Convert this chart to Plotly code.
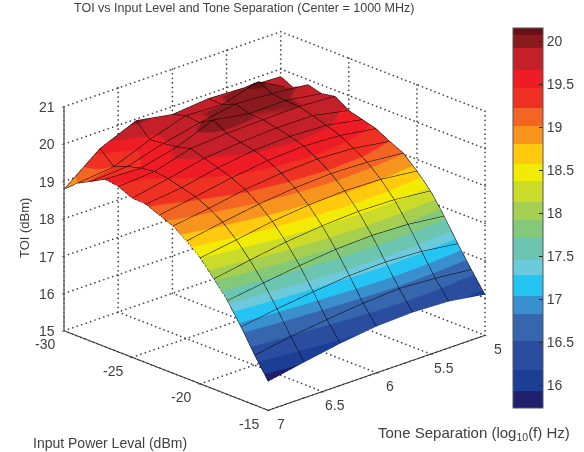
import numpy as np
import plotly.graph_objects as go

input_level = list(range(-30, -14))
tone_sep = [7, 6.6667, 6.3333, 6, 5.6667, 5.3333, 5]
# rows: input level, columns: tone separation (7 -> 5)
toi_rows = [
 [18.79,19.55,19.96,19.79,19.88,19.84,19.80],
 [19.09,19.20,19.59,19.90,19.86,20.14,19.62],
 [19.28,19.35,19.63,19.85,20.02,19.96,19.87],
 [19.48,19.45,19.68,20.07,19.90,19.92,19.77],
 [19.43,19.50,19.78,19.85,19.88,19.90,19.84],
 [19.26,19.45,19.66,19.75,19.80,19.80,19.60],
 [19.24,19.35,19.55,19.68,19.72,19.68,19.50],
 [19.09,19.25,19.42,19.55,19.60,19.55,19.40],
 [18.94,19.08,19.25,19.35,19.40,19.35,19.20],
 [18.68,18.85,19.00,19.10,19.15,19.12,19.03],
 [18.37,18.52,18.68,18.78,18.83,18.80,18.69],
 [17.95,18.12,18.27,18.37,18.42,18.40,18.30],
 [17.51,17.65,17.78,17.88,17.92,17.88,17.77],
 [16.95,17.10,17.22,17.32,17.35,17.30,17.17],
 [16.33,16.50,16.62,16.72,16.78,16.72,16.62],
 [15.77,15.95,16.12,16.24,16.28,16.24,16.09],
]
x_ticks = [-30, -25, -20, -15]
y_ticks = [5, 5.5, 6, 6.5, 7]
z_ticks = [15, 16, 17, 18, 19, 20, 21]
cbar_ticks = [16, 16.5, 17, 17.5, 18, 18.5, 19, 19.5, 20]
band_edges = [15.736,15.93,16.18,16.51,16.83,17.04,17.28,17.46,17.71,17.92,18.13,18.37,18.57,18.81,19.02,19.22,19.46,19.67,19.92,20.07,20.155]
band_colors = ["#1f1f6e","#1c3f95","#2a4da0","#3566ae","#3a8fcf","#25c5f3","#6dcadd","#6cc5b0","#84c87a","#a6ce50","#cbdb2a","#f2ec05","#ffc90e","#f7941d","#f36523","#ef3124","#ee1c25","#c4202a","#8a1a1e","#6a1015"]

lo, hi = band_edges[0], band_edges[-1]
scale = []
for a, b, c in zip(band_edges[:-1], band_edges[1:], band_colors):
    scale += [[(a-lo)/(hi-lo), c], [(b-lo)/(hi-lo), c]]

Z = np.array(toi_rows).T
FONT = "Liberation Sans"
TXT = "#404040"

fig = go.Figure()

# dotted box grid, drawn as fine dots along the tick lines
gx, gy, gz = [], [], []
def seg(p, q, n):
    t = np.linspace(0, 1, n)
    gx.extend(p[0] + (q[0]-p[0])*t); gy.extend(p[1] + (q[1]-p[1])*t); gz.extend(p[2] + (q[2]-p[2])*t)
x0, x1, y0, y1, z0, z1 = x_ticks[0], x_ticks[-1], y_ticks[0], y_ticks[-1], z_ticks[0], z_ticks[-1]
for xt in x_ticks:
    seg((xt, y0, z0), (xt, y1, z0), 50)
    seg((xt, y0, z0), (xt, y0, z1), 50)
for yt in y_ticks:
    seg((x0, yt, z0), (x1, yt, z0), 50)
    seg((x0, yt, z0), (x0, yt, z1), 50)
for zt in z_ticks:
    seg((x0, y0, zt), (x1, y0, zt), 50)
    seg((x0, y0, zt), (x0, y1, zt), 50)
fig.add_trace(go.Scatter3d(x=gx, y=gy, z=gz, mode="markers", hoverinfo="skip", showlegend=False,
                           marker=dict(color="#444444", size=1, line=dict(width=0))))

fig.add_trace(go.Surface(
    x=input_level, y=tone_sep, z=Z, cmin=lo, cmax=hi, colorscale=scale,
    lighting=dict(ambient=1, diffuse=0, specular=0, fresnel=0, roughness=1),
    contours=dict(
        x=dict(show=True, start=-30, end=-15, size=1, color="#000000", width=4, highlight=False),
        y=dict(show=True, start=5, end=7, size=1/3, color="#000000", width=4, highlight=False),
        z=dict(highlight=False),
    ),
    colorbar=dict(
        x=513/584, xanchor="left", xpad=0, ypad=0, thickness=30, thicknessmode="pixels",
        len=380/452, lenmode="fraction", y=1-28/452, yanchor="top",
        tickvals=cbar_ticks, ticktext=["16","16.5","17","17.5","18","18.5","19","19.5","20"],
        ticks="inside", ticklen=4, tickcolor="#222222", outlinecolor="#555555", outlinewidth=1,
        tickfont=dict(family=FONT, size=14, color=TXT),
    ),
))

ax = dict(showbackground=False, showgrid=False, zeroline=False, showspikes=False,
          showline=True, linecolor="#222222", linewidth=2, ticks="outside", ticklen=3,
          tickcolor="#222222", showticklabels=False, title=dict(text=""))

tick_font = dict(family=FONT, size=14, color=TXT)
scene_notes = []
for v in x_ticks:
    scene_notes.append(dict(x=v, y=y1, z=z0, text=str(v), showarrow=False, xshift=-19, yshift=-13, font=tick_font))
for v in y_ticks:
    scene_notes.append(dict(x=x1, y=v, z=z0, text=str(v), showarrow=False, xshift=13, yshift=-13, font=tick_font))
for v in z_ticks:
    scene_notes.append(dict(x=x0, y=y1, z=v, text=str(v), showarrow=False, xshift=-17, yshift=0, font=tick_font))

# left-hand colorbar tick marks, placed from the colorbar's own scale
cb_top, cb_len = 28, 380
cb_shapes = [dict(type="line", xref="paper", yref="paper", x0=513/584, x1=517/584,
                  y0=1-(cb_top+(hi-v)/(hi-lo)*cb_len)/452, y1=1-(cb_top+(hi-v)/(hi-lo)*cb_len)/452,
                  line=dict(color="#222222", width=1)) for v in cbar_ticks]

fig.update_layout(
    width=584, height=452, margin=dict(l=0, r=0, t=0, b=0), paper_bgcolor="white",
    font=dict(family=FONT, color=TXT), shapes=cb_shapes,
    scene=dict(
        domain=dict(x=[0, 0.94], y=[0.025, 0.995]),
        xaxis=dict(ax, range=[-30, -15], tickvals=x_ticks),
        yaxis=dict(ax, range=[7, 5], tickvals=y_ticks),
        zaxis=dict(ax, range=[15, 21], tickvals=z_ticks),
        aspectmode="manual", aspectratio=dict(x=1.36, y=1.36, z=1.10),
        camera=dict(projection=dict(type="orthographic"),
                    up=dict(x=0, y=0, z=1), center=dict(x=0, y=0, z=0),
                    eye=dict(x=1.354, y=-1.276, z=0.734)),
        annotations=scene_notes,
    ),
    annotations=[
        dict(text="TOI vs Input Level and Tone Separation (Center = 1000 MHz)", x=244/584, y=1-8/452, xref="paper", yref="paper", showarrow=False, xanchor="center", yanchor="middle", font=dict(size=12.5, color=TXT)),
        dict(text="Input Power Leval (dBm)", x=110/584, y=1-443/452, xref="paper", yref="paper", showarrow=False, xanchor="center", yanchor="middle", font=dict(size=14, color=TXT)),
        dict(text="Tone Separation (log<sub>10</sub>(f) Hz)", x=474/584, y=1-433/452, xref="paper", yref="paper", showarrow=False, xanchor="center", yanchor="middle", font=dict(size=15, color=TXT)),
        dict(text="TOI (dBm)", x=24/584, y=1-228/452, xref="paper", yref="paper", showarrow=False, xanchor="center", yanchor="middle", textangle=-90, font=dict(size=13, color=TXT)),
    ],
)
fig.write_html("out.html", config=dict(displayModeBar=False), post_script="document.body.style.margin='0';")
